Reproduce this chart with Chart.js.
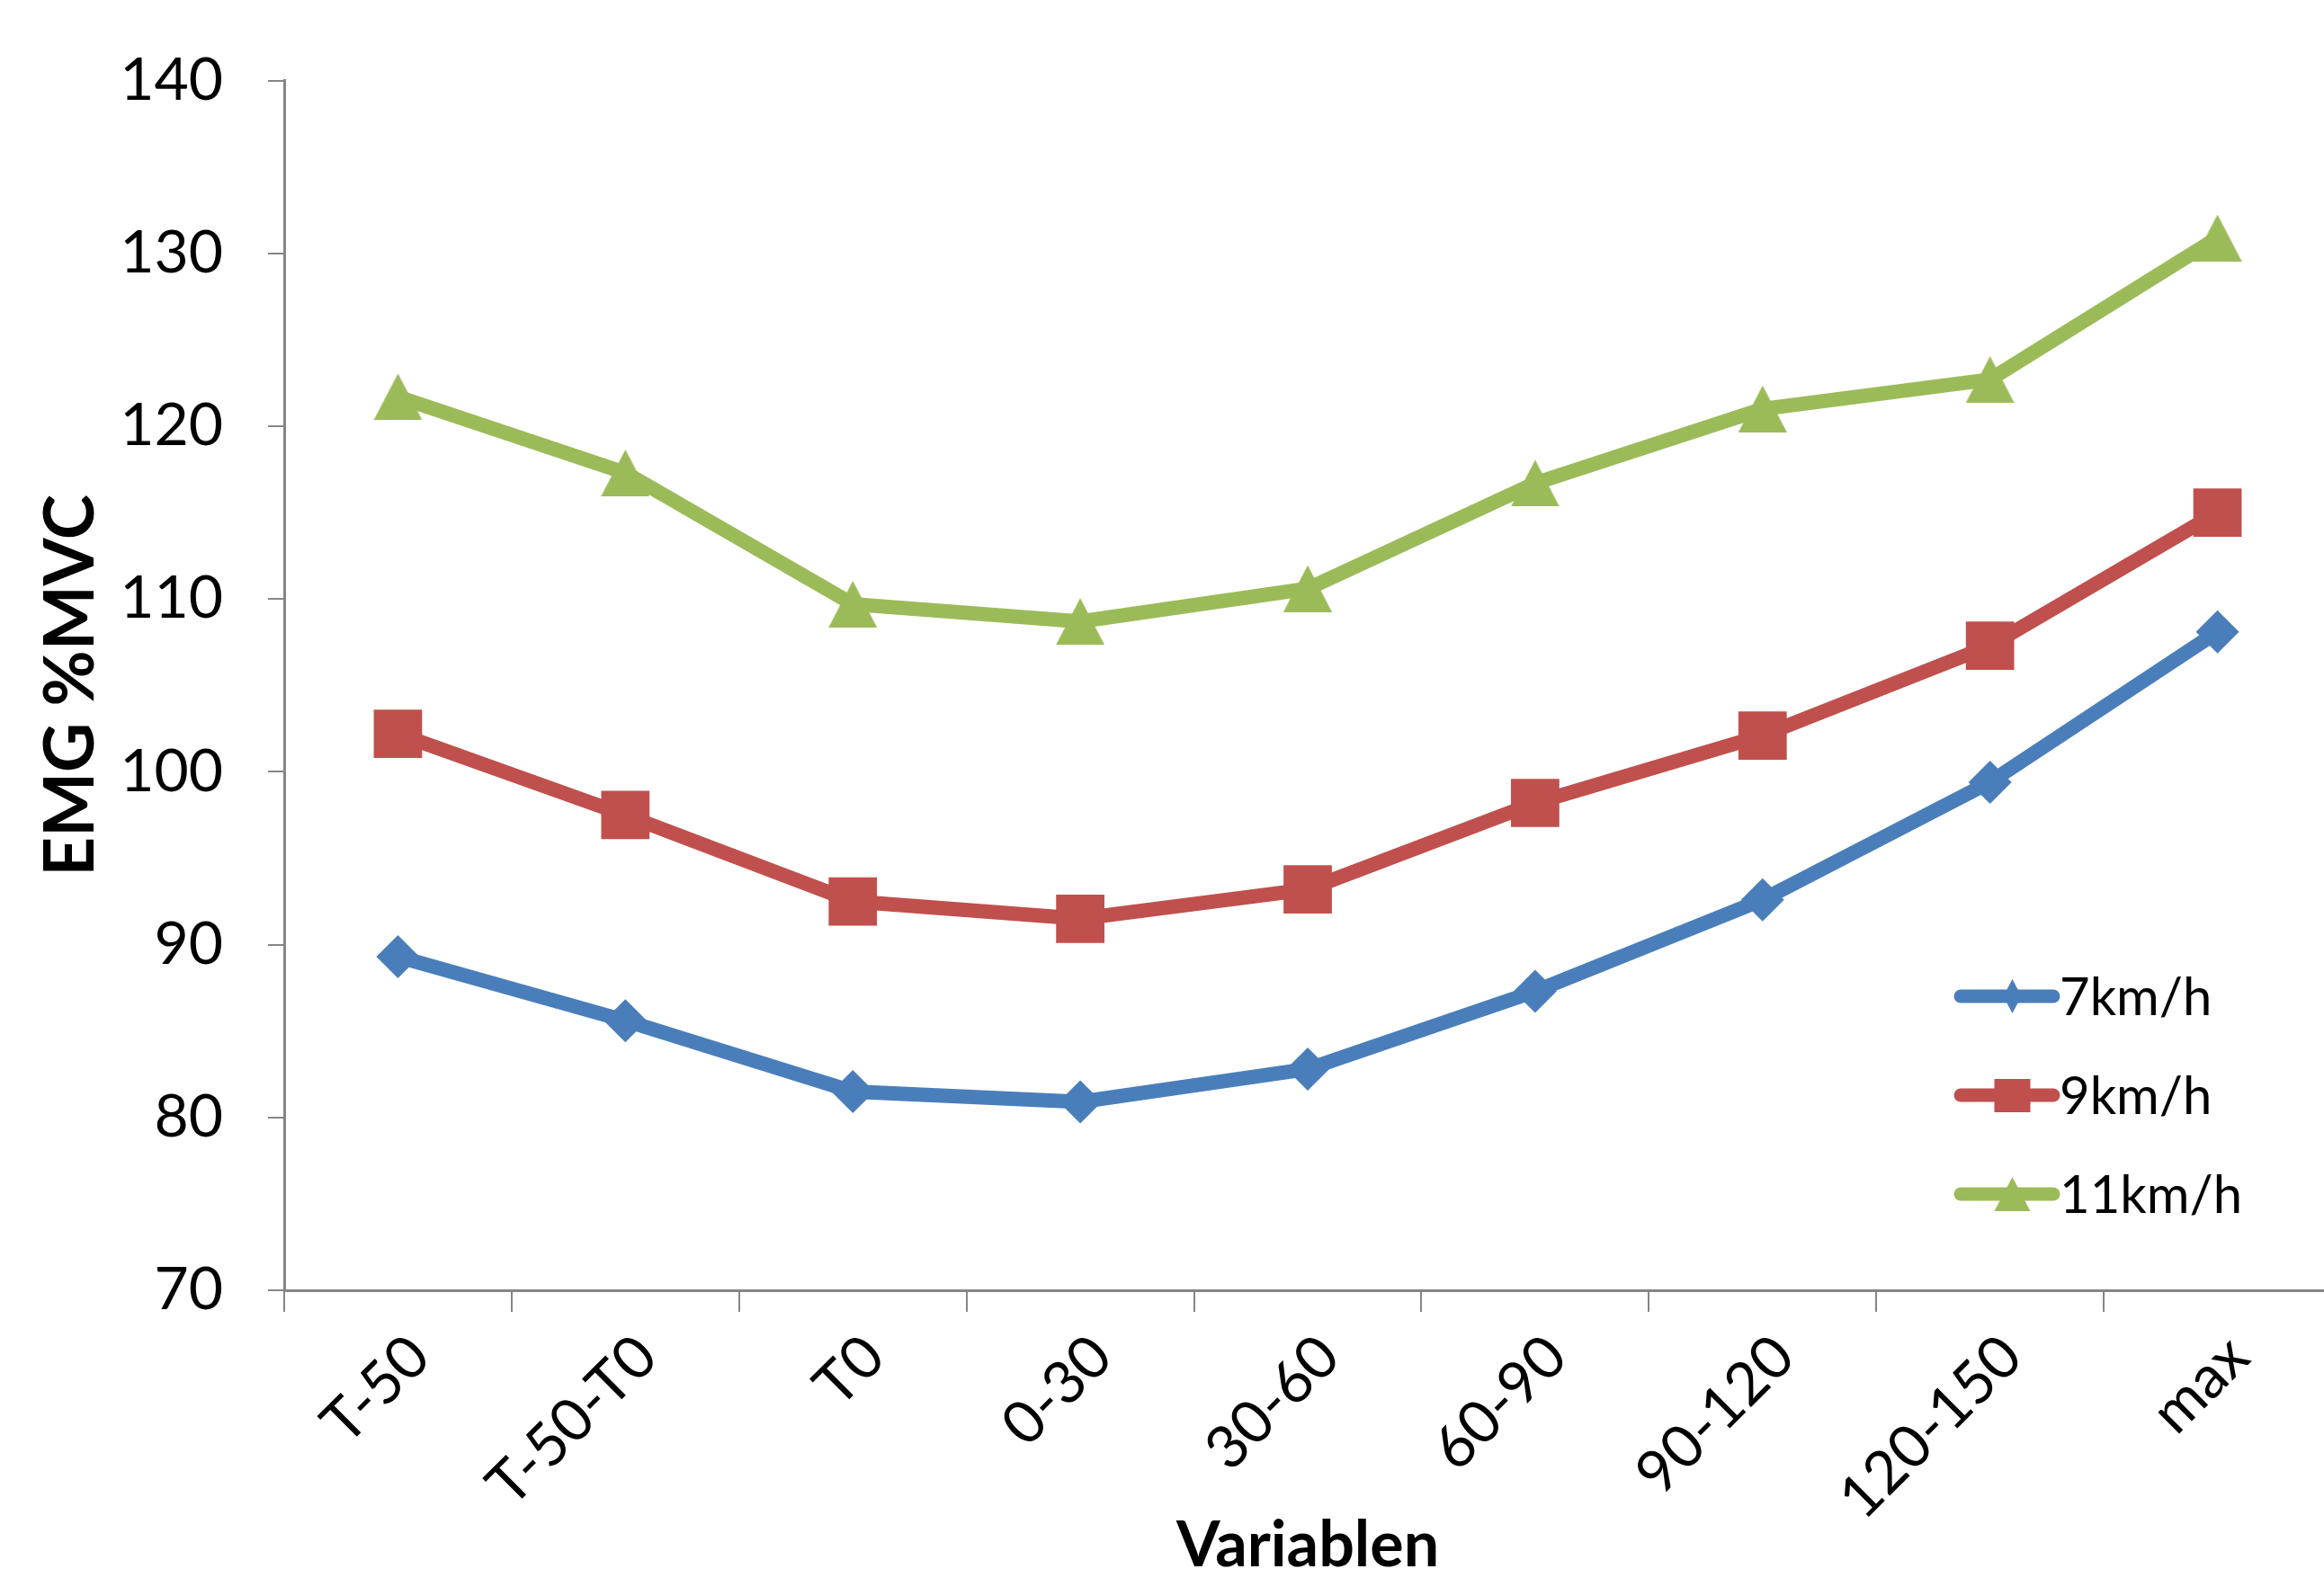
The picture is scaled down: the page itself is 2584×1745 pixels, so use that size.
<!DOCTYPE html>
<html>
<head>
<meta charset="utf-8">
<script src="https://cdn.jsdelivr.net/npm/chart.js@4.4.1/dist/chart.umd.min.js"></script>
<style>
  html, body { margin: 0; padding: 0; background: #ffffff; overflow: hidden; }
  #wrap { position: relative; width: 2630px; height: 1745px; }
</style>
</head>
<body>
<div id="wrap"><canvas id="c"></canvas></div>
<script>
// ---- data ----
const categories = ['T-50', 'T-50-T0', 'T0', '0-30', '30-60', '60-90', '90-120', '120-150', 'max'];
const seriesNames = ['7km/h', '9km/h', '11km/h'];
const values7 = [89.3, 85.6, 81.5, 80.9, 82.8, 87.3, 92.6, 99.4, 108.1];
const values9 = [102.2, 97.5, 92.5, 91.5, 93.2, 98.2, 102.1, 107.3, 115.0];
const values11 = [121.7, 117.3, 109.7, 108.7, 110.6, 116.7, 121.0, 122.7, 130.9];
const yTicks = [70, 80, 90, 100, 110, 120, 130, 140];
const yTitle = 'EMG %MVC';
const xTitle = 'Variablen';

// ---- styles ----
const BLUE = '#4A7EBB', RED = '#C0504D', GREEN = '#9BBB59';
const AXIS = '#868686';
const FONT = "Lato, 'Open Sans', 'DejaVu Sans', sans-serif";

// triangle marker centred on its bounding box (like the original)
function triCanvas(w, h, color) {
  const c = document.createElement('canvas');
  c.width = w; c.height = h;
  const g = c.getContext('2d');
  g.fillStyle = color;
  g.beginPath();
  g.moveTo(w / 2, 0); g.lineTo(w, h); g.lineTo(0, h); g.closePath();
  g.fill();
  return c;
}
const triMarker = triCanvas(54, 52, GREEN);

const bg = {
  id: 'bg',
  beforeDraw(chart) {
    const ctx = chart.ctx;
    ctx.save(); ctx.fillStyle = '#fff'; ctx.fillRect(0, 0, chart.width, chart.height); ctx.restore();
  }
};

const legendBox = {
  id: 'legendBox',
  afterDraw(chart) {
    const ctx = chart.ctx;
    const rows = [1108, 1218, 1328];
    const x0 = 2180, x1 = 2283;
    chart.data.datasets.forEach((ds, i) => {
      const y = rows[i];
      const cx = (x0 + x1) / 2 + 6;
      ctx.save();
      ctx.strokeStyle = ds.borderColor; ctx.lineWidth = 15; ctx.lineCap = 'round';
      ctx.beginPath(); ctx.moveTo(x0, y); ctx.lineTo(x1, y); ctx.stroke();
      ctx.fillStyle = ds.borderColor;
      ctx.beginPath();
      if (i === 0) {
        ctx.moveTo(cx, y - 19); ctx.lineTo(cx + 10, y); ctx.lineTo(cx, y + 19); ctx.lineTo(cx - 10, y);
      } else if (i === 1) {
        ctx.rect(cx - 20, y - 18, 40, 37);
      } else {
        ctx.moveTo(cx, y - 19); ctx.lineTo(cx + 20, y + 19); ctx.lineTo(cx - 20, y + 19);
      }
      ctx.closePath(); ctx.fill();
      ctx.fillStyle = '#000';
      ctx.font = '58px ' + FONT;
      ctx.textBaseline = 'middle'; ctx.textAlign = 'left';
      ctx.fillText(ds.label, x1 + 7, y + 2);
      ctx.restore();
    });
  }
};

Chart.defaults.color = '#000';
Chart.defaults.font.family = FONT;

new Chart(document.getElementById('c'), {
  type: 'line',
  data: {
    labels: categories,
    datasets: [
      { label: seriesNames[0], data: values7, borderColor: BLUE, backgroundColor: BLUE,
        borderWidth: 16, pointStyle: 'rectRot', pointRadius: 24, pointBorderWidth: 0, tension: 0 },
      { label: seriesNames[1], data: values9, borderColor: RED, backgroundColor: RED,
        borderWidth: 16, pointStyle: 'rect', pointRadius: 38, pointBorderWidth: 0, tension: 0 },
      { label: seriesNames[2], data: values11, borderColor: GREEN, backgroundColor: GREEN,
        borderWidth: 16, pointStyle: triMarker, pointRadius: 27, pointBorderWidth: 0, tension: 0 }
    ]
  },
  options: {
    responsive: true,
    maintainAspectRatio: false,
    animation: false,
    events: [],
    layout: { padding: { top: 86, right: 0, bottom: 0, left: 0 } },
    plugins: { legend: { display: false }, tooltip: { enabled: false } },
    scales: {
      x: {
        type: 'category',
        offset: true,
        grid: { display: true, drawOnChartArea: false, drawTicks: true, tickLength: 24,
                color: AXIS, lineWidth: 2, offset: true },
        border: { display: true, color: AXIS, width: 3 },
        ticks: { font: { size: 66 }, minRotation: 45, maxRotation: 45, padding: 11, labelOffset: 24,
                 autoSkip: false, color: '#000' },
        title: { display: true, text: xTitle, font: { size: 70, weight: 'bold', lineHeight: 0.74 },
                 padding: { top: 0, bottom: 0 }, color: '#000' },
        afterFit(scale) { scale.height = 310; }
      },
      y: {
        min: 70, max: 140,
        afterBuildTicks(scale) { scale.ticks = yTicks.map(v => ({ value: v })); },
        grid: { display: true, drawOnChartArea: false, drawTicks: true, tickLength: 18,
                color: AXIS, lineWidth: 2 },
        border: { display: true, color: AXIS, width: 3 },
        ticks: { font: { size: 66 }, padding: 50, color: '#000' },
        title: { display: true, text: yTitle, font: { size: 76, weight: 'bold' },
                 padding: { top: 34, bottom: 0 }, color: '#000' },
        afterFit(scale) { scale.width = 316; }
      }
    }
  },
  plugins: [bg, legendBox]
});
</script>
</body>
</html>
